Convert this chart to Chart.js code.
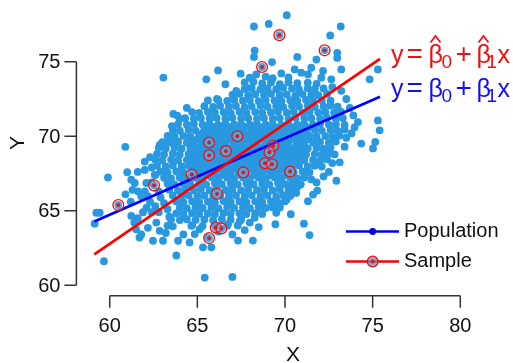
<!DOCTYPE html>
<html><head><meta charset="utf-8">
<script src="https://cdn.jsdelivr.net/npm/chart.js@4.4.1/dist/chart.umd.min.js"></script>
<style>html,body{margin:0;padding:0;background:#fff;}#wrap{width:513px;height:363px;}</style>
</head><body><div id="wrap"><canvas id="c" width="513" height="363"></canvas></div>
<script>
const xTicks = [60, 65, 70, 75, 80];
const yTicks = [60, 65, 70, 75];
const xTitle = "X";
const yTitle = "Y";
const legendLabels = ["Population", "Sample"];
const lineX = [59.12, 75.42];
const popLineY = [64.27, 72.65];
const sampleLineY = [62.06, 75.2];

const samplePoints = [
[69.68,76.79],[72.26,75.77],[68.69,74.65],[67.28,70.0],[65.67,69.58],[65.67,68.72],[66.63,69.0],
[69.33,69.36],[69.11,68.92],[68.86,68.19],[69.26,68.12],[67.62,67.57],[70.29,67.63],[64.68,67.43],
[62.53,66.70],[60.49,65.38],[66.12,66.13],[66.05,63.87],[66.37,63.81],[65.67,63.16]
];

const popPoints = [
[67.7,73.62],[68.2,73.66],[68.7,73.55],[69.2,73.61],[69.7,73.5],[70.2,73.63],[70.7,73.56],[71.3,73.6],[71.8,73.52],
[67.7,73.18],[68.1,73.24],[68.6,73.15],[69.0,73.22],[69.5,73.17],[69.9,73.25],[70.4,73.2],[70.8,73.14],[71.3,73.23],[71.7,73.18],[72.2,73.21],
[67.0,72.78],[67.4,72.84],[67.9,72.76],[68.3,72.82],[68.8,72.79],[69.2,72.85],[69.7,72.77],[70.1,72.81],[70.6,72.75],[71.0,72.83],[71.5,72.8],[71.9,72.76],[72.4,72.84],
[66.2,72.42],[66.7,72.37],[67.1,72.44],[67.6,72.39],[68.0,72.41],[68.5,72.36],[68.9,72.43],[69.4,72.4],[69.8,72.35],[70.3,72.42],[70.7,72.38],[71.2,72.44],[71.6,72.37],[72.1,72.41],[72.6,72.39],
[65.4,72.02],[65.9,71.97],[66.3,72.04],[66.8,71.99],[67.2,72.03],[67.7,71.96],[68.1,72.01],[68.6,72.05],[69.0,71.98],[69.5,72.02],[69.9,71.96],[70.4,72.04],[70.8,71.99],[71.3,72.03],[71.7,71.97],[72.2,72.01],[72.6,72.05],[73.0,71.98],
[64.7,71.62],[65.1,71.57],[65.6,71.63],[66.0,71.58],[66.5,71.61],[66.9,71.56],[67.4,71.64],[67.8,71.59],[68.3,71.62],[68.7,71.57],[69.2,71.6],[69.6,71.65],[70.1,71.58],[70.5,71.62],[71.0,71.56],[71.4,71.63],[71.9,71.59],[72.3,71.61],[72.8,71.57],[73.2,71.64],
[64.3,71.21],[64.8,71.17],[65.2,71.23],[65.7,71.18],[66.1,71.22],[66.6,71.16],[67.0,71.24],[67.5,71.19],[67.9,71.21],[68.4,71.17],[68.8,71.23],[69.3,71.18],[69.7,71.22],[70.2,71.16],[70.6,71.24],[71.1,71.19],[71.5,71.21],[72.0,71.17],[72.4,71.23],[72.9,71.18],[73.3,71.22],
[63.9,70.82],[64.4,70.77],[64.8,70.83],[65.3,70.78],[65.7,70.81],[66.2,70.76],[66.6,70.84],[67.1,70.79],[67.5,70.82],[68.0,70.77],[68.4,70.83],[68.9,70.78],[69.3,70.81],[69.8,70.76],[70.2,70.84],[70.7,70.79],[71.1,70.82],[71.6,70.77],[72.0,70.83],[72.5,70.78],[72.9,70.81],[73.4,70.76],
[63.6,70.41],[64.0,70.37],[64.5,70.43],[64.9,70.38],[65.4,70.42],[65.8,70.36],[66.3,70.44],[66.7,70.39],[67.2,70.41],[67.6,70.37],[68.1,70.43],[68.5,70.38],[69.0,70.42],[69.4,70.36],[69.9,70.44],[70.3,70.39],[70.8,70.41],[71.2,70.37],[71.7,70.43],[72.1,70.38],[72.6,70.42],[73.0,70.36],[73.4,70.44],
[63.3,70.02],[63.7,69.97],[64.2,70.03],[64.6,69.98],[65.1,70.01],[65.5,69.96],[66.0,70.04],[66.4,69.99],[66.9,70.02],[67.3,69.97],[67.8,70.03],[68.2,69.98],[68.7,70.01],[69.1,69.96],[69.6,70.04],[70.0,69.99],[70.5,70.02],[70.9,69.97],[71.4,70.03],[71.8,69.98],[72.3,70.01],[72.7,69.96],[73.1,70.04],
[63.0,69.61],[63.5,69.57],[63.9,69.63],[64.4,69.58],[64.8,69.62],[65.3,69.56],[65.7,69.64],[66.2,69.59],[66.6,69.61],[67.1,69.57],[67.5,69.63],[68.0,69.58],[68.4,69.62],[68.9,69.56],[69.3,69.64],[69.8,69.59],[70.2,69.61],[70.7,69.57],[71.1,69.63],[71.6,69.58],[72.0,69.62],[72.5,69.56],[72.9,69.64],
[62.8,69.22],[63.2,69.17],[63.7,69.23],[64.1,69.18],[64.6,69.21],[65.0,69.16],[65.5,69.24],[65.9,69.19],[66.4,69.22],[66.8,69.17],[67.3,69.23],[67.7,69.18],[68.2,69.21],[68.6,69.16],[69.1,69.24],[69.5,69.19],[70.0,69.22],[70.4,69.17],[70.9,69.23],[71.3,69.18],[71.8,69.21],[72.2,69.16],[72.6,69.24],
[62.7,68.81],[63.1,68.77],[63.6,68.83],[64.0,68.78],[64.5,68.82],[64.9,68.76],[65.4,68.84],[65.8,68.79],[66.3,68.81],[66.7,68.77],[67.2,68.83],[67.6,68.78],[68.1,68.82],[68.5,68.76],[69.0,68.84],[69.4,68.79],[69.9,68.81],[70.3,68.77],[70.8,68.83],[71.2,68.78],[71.7,68.82],[72.1,68.76],[72.5,68.84],
[62.6,68.42],[63.0,68.37],[63.5,68.43],[63.9,68.38],[64.4,68.41],[64.8,68.36],[65.3,68.44],[65.7,68.39],[66.2,68.42],[66.6,68.37],[67.1,68.43],[67.5,68.38],[68.0,68.41],[68.4,68.36],[68.9,68.44],[69.3,68.39],[69.8,68.42],[70.2,68.37],[70.7,68.43],[71.1,68.38],[71.6,68.41],[72.0,68.36],[72.4,68.44],
[62.7,68.01],[63.2,67.97],[63.6,68.03],[64.1,67.98],[64.5,68.02],[65.0,67.96],[65.4,68.04],[65.9,67.99],[66.3,68.01],[66.8,67.97],[67.2,68.03],[67.7,67.98],[68.1,68.02],[68.6,67.96],[69.0,68.04],[69.5,67.99],[69.9,68.01],[70.4,67.97],[70.8,68.03],[71.3,67.98],[71.7,68.02],[72.1,67.96],
[62.9,67.62],[63.3,67.57],[63.8,67.63],[64.2,67.58],[64.7,67.61],[65.1,67.56],[65.6,67.64],[66.0,67.59],[66.5,67.62],[66.9,67.57],[67.4,67.63],[67.8,67.58],[68.3,67.61],[68.7,67.56],[69.2,67.64],[69.6,67.59],[70.1,67.62],[70.5,67.57],[71.0,67.63],[71.4,67.58],
[63.1,67.21],[63.5,67.17],[64.0,67.23],[64.4,67.18],[64.9,67.22],[65.3,67.16],[65.8,67.24],[66.2,67.19],[66.7,67.21],[67.1,67.17],[67.6,67.23],[68.0,67.18],[68.5,67.22],[68.9,67.16],[69.4,67.24],[69.8,67.19],[70.3,67.21],[70.7,67.17],[71.1,67.23],
[63.3,66.82],[63.7,66.77],[64.2,66.83],[64.6,66.78],[65.1,66.81],[65.5,66.76],[66.0,66.84],[66.4,66.79],[66.9,66.82],[67.3,66.77],[67.8,66.83],[68.2,66.78],[68.7,66.81],[69.1,66.76],[69.6,66.84],[70.0,66.79],[70.5,66.82],[70.9,66.77],
[63.4,66.41],[63.9,66.37],[64.3,66.43],[64.8,66.38],[65.2,66.42],[65.7,66.36],[66.1,66.44],[66.6,66.39],[67.0,66.41],[67.5,66.37],[67.9,66.43],[68.4,66.38],[68.8,66.42],[69.3,66.36],[69.7,66.44],[70.2,66.39],[70.6,66.41],
[63.6,66.02],[64.1,65.97],[64.5,66.03],[65.0,65.98],[65.4,66.01],[65.9,65.96],[66.3,66.04],[66.8,65.99],[67.2,66.02],[67.7,65.97],[68.1,66.03],[68.6,65.98],[69.0,66.01],[69.5,65.96],[69.9,66.04],[70.3,65.99],
[63.8,65.62],[64.2,65.57],[64.7,65.63],[65.1,65.58],[65.6,65.61],[66.0,65.56],[66.5,65.64],[66.9,65.59],[67.4,65.62],[67.8,65.57],[68.3,65.63],[68.7,65.58],[69.2,65.61],[69.6,65.56],[70.0,65.64],
[64.0,65.21],[64.4,65.17],[64.9,65.23],[65.3,65.18],[65.8,65.22],[66.2,65.16],[66.7,65.24],[67.1,65.19],[67.6,65.21],[68.0,65.17],[68.5,65.23],[68.9,65.18],[69.3,65.22],
[63.8,64.82],[64.2,64.77],[64.7,64.83],[65.1,64.78],[65.6,64.81],[66.0,64.76],[66.5,64.84],[66.9,64.79],[67.4,64.82],[67.8,64.77],[68.3,64.83],[68.7,64.78],
[63.5,64.42],[64.0,64.37],[64.4,64.43],[64.9,64.38],[65.4,64.41],[65.9,64.36],[66.4,64.44],[66.9,64.39],[67.5,64.41],
[64.7,64.02],[65.3,63.97],[66.0,64.03],[66.7,63.98],[67.3,64.01],
[65.5,70.6],[65.95,70.62],[66.4,70.58],[66.85,70.61],[67.3,70.59],[67.75,70.62],[68.2,70.58],[68.65,70.6],[69.1,70.63],[69.55,70.58],[70.0,70.61],[70.45,70.59],[70.9,70.62],[71.35,70.58],
[65.3,70.2],[65.75,70.22],[66.2,70.18],[66.65,70.21],[67.1,70.19],[67.55,70.22],[68.0,70.18],[68.45,70.2],[68.9,70.23],[69.35,70.18],[69.8,70.21],[70.25,70.19],[70.7,70.22],[71.15,70.18],
[65.0,69.8],[65.45,69.82],[65.9,69.78],[66.35,69.81],[66.8,69.79],[67.25,69.82],[67.7,69.78],[68.15,69.8],[68.6,69.83],[69.05,69.78],[69.5,69.81],[69.95,69.79],[70.4,69.82],[70.85,69.78],[71.3,69.8],
[64.8,69.4],[65.25,69.42],[65.7,69.38],[66.15,69.41],[66.6,69.39],[67.05,69.42],[67.5,69.38],[67.95,69.4],[68.4,69.43],[68.85,69.38],[69.3,69.41],[69.75,69.39],[70.2,69.42],[70.65,69.38],[71.1,69.4],
[64.7,69.0],[65.15,69.02],[65.6,68.98],[66.05,69.01],[66.5,68.99],[66.95,69.02],[67.4,68.98],[67.85,69.0],[68.3,69.03],[68.75,68.98],[69.2,69.01],[69.65,68.99],[70.1,69.02],[70.55,68.98],[71.0,69.0],
[64.6,68.6],[65.05,68.62],[65.5,68.58],[65.95,68.61],[66.4,68.59],[66.85,68.62],[67.3,68.58],[67.75,68.6],[68.2,68.63],[68.65,68.58],[69.1,68.61],[69.55,68.59],[70.0,68.62],[70.45,68.58],[70.9,68.6],
[64.7,68.2],[65.15,68.22],[65.6,68.18],[66.05,68.21],[66.5,68.19],[66.95,68.22],[67.4,68.18],[67.85,68.2],[68.3,68.23],[68.75,68.18],[69.2,68.21],[69.65,68.19],[70.1,68.22],[70.55,68.18],
[64.9,67.8],[65.35,67.82],[65.8,67.78],[66.25,67.81],[66.7,67.79],[67.15,67.82],[67.6,67.78],[68.05,67.8],[68.5,67.83],[68.95,67.78],[69.4,67.81],[69.85,67.79],[70.3,67.82],
[65.1,67.4],[65.55,67.42],[66.0,67.38],[66.45,67.41],[66.9,67.39],[67.35,67.42],[67.8,67.38],[68.25,67.4],[68.7,67.43],[69.15,67.38],[69.6,67.41],[70.05,67.39],
[70.1,78.13],[69.07,77.54],[68.23,77.37],[73.18,77.37],[72.58,76.77],[68.27,75.75],[68.23,75.33],[72.98,75.6],[72.98,75.26],
[70.7,75.33],[69.26,74.98],[71.79,75.15],[63.06,73.94],[65.51,73.82],[66.18,74.42],[66.6,73.49],[67.22,73.05],[67.47,74.2],
[67.99,73.94],[68.36,74.15],[68.9,74.0],[69.3,73.9],[69.79,74.22],[70.2,73.95],[70.55,74.49],[70.93,74.27],[71.31,74.15],
[71.5,74.6],[72.17,74.38],[72.07,73.93],[72.64,73.82],[73.21,74.49],[75.3,74.49],[74.83,73.82],[73.5,72.5],[73.21,73.05],
[72.7,73.3],[66.12,72.5],[65.6,72.4],[67.79,73.27],[64.4,71.9],[63.86,71.39],[63.99,71.17],[63.55,70.68],[63.63,71.5],
[60.89,69.29],[62.85,69.4],[63.27,69.58],[62.3,68.6],[62.0,68.3],[62.4,67.9],[62.6,67.4],[59.9,67.23],[61.0,67.58],
[61.6,67.6],[62.0,67.74],[61.23,67.08],[61.43,66.86],[61.61,66.3],[62.0,66.3],[61.8,65.97],[62.18,65.97],[62.09,66.86],
[62.57,67.41],[62.4,66.9],[61.3,66.4],[62.3,65.6],[62.6,65.3],[62.1,65.2],[61.2,65.6],[60.9,66.1],[62.8,66.3],[62.9,65.9],
[63.1,65.5],[63.3,65.1],[62.8,64.9],[59.24,64.86],[59.43,64.86],[59.14,64.13],[61.23,64.65],[59.67,61.61],[63.8,61.99],
[61.7,63.2],[61.8,63.4],[62.47,62.98],[63.04,62.98],[63.9,62.98],[62.18,63.85],[62.85,63.65],[61.5,63.76],[61.4,64.2],
[61.6,64.5],[62.66,64.2],[63.3,64.0],[63.6,63.95],[63.2,63.5],[62.4,64.9],[61.9,64.9],[63.4,64.6],[64.56,62.87],
[65.32,62.54],[65.8,62.54],[67.32,62.99],[68.17,62.99],[65.42,60.51],[67.0,60.55],[64.66,63.98],[65.13,63.76],[64.85,63.43],
[66.75,64.09],[67.42,64.31],[67.99,64.2],[68.27,64.53],[69.45,64.09],[69.5,64.86],[69.7,65.31],[69.7,65.2],[66.2,63.6],
[67.0,63.4],[67.7,63.7],[68.5,63.9],[64.2,63.4],[65.6,63.2],[75.3,71.06],[75.4,70.4],[74.16,70.95],[73.97,70.6],[73.8,70.2],
[73.5,69.9],[75.15,69.62],[74.35,69.51],[75.02,69.18],[73.4,69.3],[72.83,68.78],[73.12,68.25],[72.93,67.01],[72.7,68.2],
[72.5,67.6],[72.2,67.3],[71.8,66.9],[71.5,67.1],[71.6,66.08],[71.84,66.35],[71.31,65.64],[70.64,66.19],[70.36,66.75],
[70.74,66.64],[70.33,64.76],[71.08,64.13],[71.4,63.36],[73.7,71.9],[73.9,71.4],[70.1,65.75]
];

const BLUE_PT = '#2898e0';
const FONT = '"Liberation Sans", Arial, sans-serif';
const toXY = a => a.map(p => ({x: p[0], y: p[1]}));

const axesPlugin = {
  id: 'axesPlugin',
  afterDraw(chart) {
    const ctx = chart.ctx, xs = chart.scales.x, ys = chart.scales.y, ca = chart.chartArea;
    ctx.save();
    ctx.strokeStyle = '#333'; ctx.lineWidth = 1.5; ctx.lineCap = 'butt';
    const ax = ca.left;
    ctx.beginPath();
    ctx.moveTo(ax, ys.getPixelForValue(yTicks[0]));
    ctx.lineTo(ax, ys.getPixelForValue(yTicks[yTicks.length - 1]));
    yTicks.forEach(t => { const py = ys.getPixelForValue(t); ctx.moveTo(ax, py); ctx.lineTo(ax - 12, py); });
    const ay = ca.bottom;
    ctx.moveTo(xs.getPixelForValue(xTicks[0]), ay);
    ctx.lineTo(xs.getPixelForValue(xTicks[xTicks.length - 1]), ay);
    xTicks.forEach(t => { const px = xs.getPixelForValue(t); ctx.moveTo(px, ay); ctx.lineTo(px, ay + 12); });
    ctx.stroke();
    ctx.fillStyle = '#111';
    ctx.font = '20px ' + FONT;
    ctx.textAlign = 'right'; ctx.textBaseline = 'middle';
    yTicks.forEach(t => ctx.fillText(String(t), ax - 16, ys.getPixelForValue(t) + 1));
    ctx.textAlign = 'center'; ctx.textBaseline = 'alphabetic';
    xTicks.forEach(t => ctx.fillText(String(t), xs.getPixelForValue(t), 332));
    ctx.font = '21px ' + FONT;
    ctx.fillText(xTitle, 293, 361);
    ctx.save(); ctx.translate(24, 143); ctx.rotate(-Math.PI / 2); ctx.fillText(yTitle, 0, 0); ctx.restore();

    function eq(color, base, hat) {
      ctx.fillStyle = color; ctx.strokeStyle = color;
      ctx.textAlign = 'left'; ctx.textBaseline = 'alphabetic';
      ctx.font = '25px ' + FONT;
      ctx.fillText('y', 391, base);
      ctx.fillText('\u03b2', 428.5, base);
      ctx.fillText('\u03b2', 476.5, base);
      ctx.fillText('x', 497.5, base);
      ctx.font = '28px ' + FONT;
      ctx.fillText('=', 406.5, base);
      ctx.fillText('+', 455.5, base);
      ctx.font = '19px ' + FONT;
      ctx.fillText('0', 441.5, base + 4.5);
      ctx.fillText('1', 486.5, base + 4.5);
      if (hat) {
        ctx.lineWidth = 1.7; ctx.lineJoin = 'miter';
        [430.5, 478.5].forEach(hx => {
          ctx.beginPath();
          ctx.moveTo(hx, base - 20.5); ctx.lineTo(hx + 5, base - 27); ctx.lineTo(hx + 10, base - 20.5);
          ctx.stroke();
        });
      }
    }
    eq('#f01010', 63, true);
    eq('#1010f0', 97, false);

    ctx.lineWidth = 2.6;
    ctx.strokeStyle = '#0000ff';
    ctx.beginPath(); ctx.moveTo(346, 231.5); ctx.lineTo(399, 231.5); ctx.stroke();
    ctx.fillStyle = '#0000dd';
    ctx.beginPath(); ctx.arc(372.7, 231.5, 3.4, 0, Math.PI * 2); ctx.fill();
    ctx.strokeStyle = '#ff0000';
    ctx.beginPath(); ctx.moveTo(346, 261.5); ctx.lineTo(399, 261.5); ctx.stroke();
    ctx.fillStyle = 'rgba(110,140,190,0.75)';
    ctx.beginPath(); ctx.arc(372.7, 261.5, 5.2, 0, Math.PI * 2); ctx.fill();
    ctx.lineWidth = 1.3; ctx.strokeStyle = '#ee1111';
    ctx.beginPath(); ctx.arc(372.7, 261.5, 5.4, 0, Math.PI * 2); ctx.stroke();
    ctx.fillStyle = '#ee1111';
    ctx.beginPath(); ctx.arc(372.7, 261.5, 2, 0, Math.PI * 2); ctx.fill();
    ctx.fillStyle = '#111';
    ctx.font = '20px ' + FONT;
    ctx.textAlign = 'left'; ctx.textBaseline = 'middle';
    ctx.fillText(legendLabels[0], 404, 231);
    ctx.fillText(legendLabels[1], 404, 261);
    ctx.restore();
  }
};

new Chart(document.getElementById('c'), {
  type: 'scatter',
  data: {
    datasets: [
      { label: 'sampleCenter', data: toXY(samplePoints), pointRadius: 1.9, pointBackgroundColor: '#ee1111', pointBorderWidth: 0, order: 0 },
      { label: 'sampleRing', data: toXY(samplePoints), pointRadius: 5.4, pointBackgroundColor: 'rgba(255,255,255,0.15)', pointBorderColor: '#ee1111', pointBorderWidth: 1.3, order: 1 },
      { type: 'line', label: 'sampleLine', data: lineX.map((x, i) => ({x, y: sampleLineY[i]})), borderColor: '#ff0000', borderWidth: 2.7, pointRadius: 0, fill: false, order: 2 },
      { type: 'line', label: 'popLine', data: lineX.map((x, i) => ({x, y: popLineY[i]})), borderColor: '#0000ff', borderWidth: 2.7, pointRadius: 0, fill: false, order: 3 },
      { label: 'Population', data: toXY(popPoints.concat(samplePoints)), pointRadius: 3.9, pointBackgroundColor: BLUE_PT, pointBorderWidth: 0, order: 4 }
    ]
  },
  options: {
    responsive: false, animation: false, devicePixelRatio: 1,
    layout: { padding: { left: 76.4, right: 38.7, top: 3.25, bottom: 67.3 } },
    plugins: { legend: { display: false }, tooltip: { enabled: false } },
    events: [],
    scales: {
      x: { type: 'linear', min: 58.1, max: 80.8, display: false },
      y: { type: 'linear', min: 59.29, max: 78.7, display: false }
    }
  },
  plugins: [axesPlugin]
});
</script>
</body></html>
